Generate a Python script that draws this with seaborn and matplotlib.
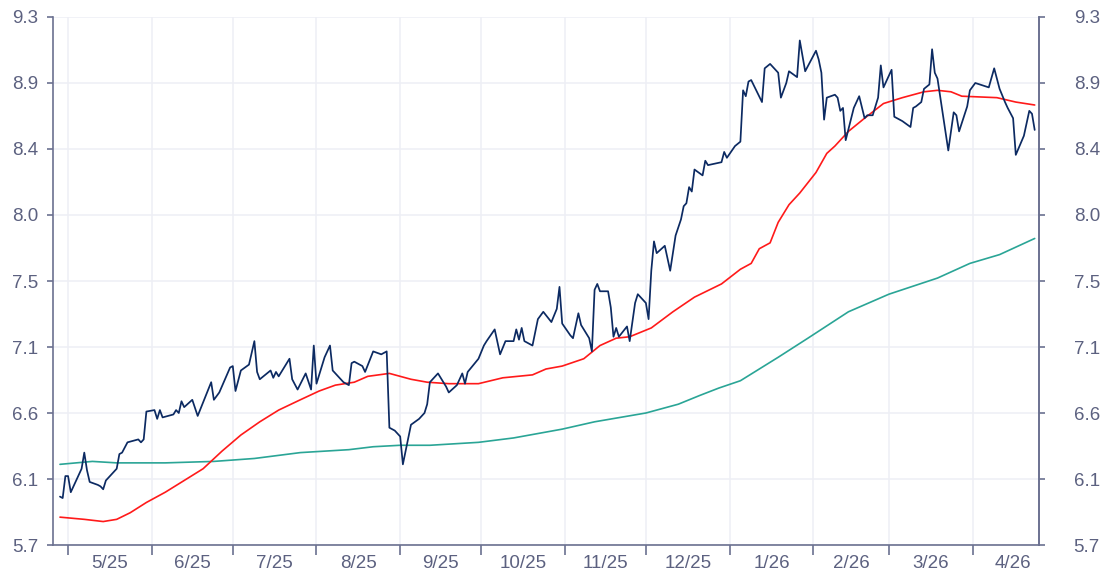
import pandas as pd
import matplotlib
matplotlib.use("Agg")
import matplotlib.pyplot as plt
import seaborn as sns

# daily price (vertices)
price_dates = [
    "2025-04-28", "2025-04-29", "2025-04-30", "2025-05-01", "2025-05-02", "2025-05-06", "2025-05-07",
    "2025-05-08", "2025-05-09", "2025-05-12", "2025-05-13", "2025-05-14", "2025-05-15", "2025-05-19",
    "2025-05-20", "2025-05-21", "2025-05-23", "2025-05-27", "2025-05-28", "2025-05-29", "2025-05-30",
    "2025-06-02", "2025-06-03", "2025-06-04", "2025-06-05", "2025-06-09", "2025-06-10", "2025-06-11",
    "2025-06-12", "2025-06-13", "2025-06-16", "2025-06-18", "2025-06-23", "2025-06-24", "2025-06-26",
    "2025-06-30", "2025-07-01", "2025-07-02", "2025-07-04", "2025-07-07", "2025-07-09", "2025-07-10",
    "2025-07-11", "2025-07-15", "2025-07-16", "2025-07-17", "2025-07-18", "2025-07-22", "2025-07-23",
    "2025-07-25", "2025-07-28", "2025-07-30", "2025-07-31", "2025-08-01", "2025-08-04", "2025-08-06",
    "2025-08-07", "2025-08-11", "2025-08-13", "2025-08-14", "2025-08-15", "2025-08-18", "2025-08-19",
    "2025-08-22", "2025-08-25", "2025-08-27", "2025-08-28", "2025-08-30", "2025-09-01", "2025-09-02",
    "2025-09-05", "2025-09-08", "2025-09-10", "2025-09-11", "2025-09-12", "2025-09-15", "2025-09-18",
    "2025-09-19", "2025-09-22", "2025-09-24", "2025-09-25", "2025-09-26", "2025-09-30", "2025-10-02",
    "2025-10-03", "2025-10-06", "2025-10-08", "2025-10-10", "2025-10-13", "2025-10-14", "2025-10-15",
    "2025-10-16", "2025-10-17", "2025-10-20", "2025-10-22", "2025-10-24", "2025-10-27", "2025-10-29",
    "2025-10-30", "2025-10-31", "2025-11-03", "2025-11-04", "2025-11-06", "2025-11-07", "2025-11-10",
    "2025-11-11", "2025-11-12", "2025-11-13", "2025-11-14", "2025-11-17", "2025-11-18", "2025-11-19",
    "2025-11-20", "2025-11-21", "2025-11-24", "2025-11-25", "2025-11-27", "2025-11-28", "2025-12-01",
    "2025-12-02", "2025-12-03", "2025-12-04", "2025-12-05", "2025-12-08", "2025-12-10", "2025-12-12",
    "2025-12-14", "2025-12-15", "2025-12-16", "2025-12-17", "2025-12-18", "2025-12-19", "2025-12-22",
    "2025-12-23", "2025-12-24", "2025-12-29", "2025-12-30", "2025-12-31", "2026-01-03", "2026-01-05",
    "2026-01-06", "2026-01-07", "2026-01-08", "2026-01-09", "2026-01-13", "2026-01-14", "2026-01-16",
    "2026-01-19", "2026-01-20", "2026-01-22", "2026-01-23", "2026-01-26", "2026-01-27", "2026-01-29",
    "2026-02-02", "2026-02-03", "2026-02-04", "2026-02-05", "2026-02-06", "2026-02-09", "2026-02-10",
    "2026-02-11", "2026-02-12", "2026-02-13", "2026-02-16", "2026-02-18", "2026-02-20", "2026-02-21",
    "2026-02-23", "2026-02-25", "2026-02-26", "2026-02-27", "2026-03-02", "2026-03-03", "2026-03-06",
    "2026-03-09", "2026-03-10", "2026-03-11", "2026-03-13", "2026-03-14", "2026-03-16", "2026-03-17",
    "2026-03-18", "2026-03-19", "2026-03-23", "2026-03-25", "2026-03-26", "2026-03-27", "2026-03-30",
    "2026-03-31", "2026-04-02", "2026-04-07", "2026-04-09", "2026-04-11", "2026-04-13", "2026-04-14",
    "2026-04-16", "2026-04-17", "2026-04-20", "2026-04-22", "2026-04-23", "2026-04-24",
]
price_values = [
    6.03, 6.02, 6.17, 6.17, 6.06, 6.22, 6.33,
    6.21, 6.13, 6.11, 6.10, 6.08, 6.14, 6.22,
    6.32, 6.33, 6.40, 6.42, 6.40, 6.42, 6.61,
    6.62, 6.56, 6.62, 6.57, 6.59, 6.62, 6.60,
    6.68, 6.64, 6.69, 6.58, 6.81, 6.69, 6.74,
    6.91, 6.92, 6.75, 6.89, 6.93, 7.09, 6.88,
    6.83, 6.89, 6.84, 6.88, 6.85, 6.97, 6.83,
    6.76, 6.87, 6.76, 7.06, 6.80, 6.98, 7.06,
    6.89, 6.81, 6.79, 6.94, 6.95, 6.92, 6.88,
    7.02, 7.00, 7.02, 6.50, 6.48, 6.44, 6.25,
    6.52, 6.56, 6.60, 6.66, 6.81, 6.87, 6.78,
    6.74, 6.79, 6.87, 6.80, 6.88, 6.97, 7.06,
    7.09, 7.17, 7.00, 7.09, 7.09, 7.17, 7.10,
    7.18, 7.09, 7.06, 7.24, 7.29, 7.22, 7.31,
    7.46, 7.21, 7.13, 7.11, 7.28, 7.20, 7.11,
    7.02, 7.44, 7.48, 7.43, 7.43, 7.32, 7.12,
    7.18, 7.12, 7.19, 7.09, 7.35, 7.41, 7.35,
    7.24, 7.57, 7.77, 7.69, 7.74, 7.57, 7.81,
    7.92, 8.01, 8.03, 8.14, 8.11, 8.26, 8.22,
    8.32, 8.29, 8.31, 8.38, 8.34, 8.42, 8.45,
    8.80, 8.76, 8.86, 8.87, 8.72, 8.95, 8.98,
    8.92, 8.75, 8.85, 8.93, 8.89, 9.14, 8.93,
    9.07, 9.01, 8.92, 8.60, 8.75, 8.77, 8.75,
    8.66, 8.68, 8.46, 8.68, 8.76, 8.61, 8.63,
    8.63, 8.75, 8.97, 8.82, 8.94, 8.62, 8.59,
    8.55, 8.68, 8.69, 8.72, 8.81, 8.84, 9.08,
    8.92, 8.88, 8.39, 8.65, 8.63, 8.52, 8.69,
    8.80, 8.85, 8.82, 8.95, 8.81, 8.72, 8.68,
    8.61, 8.36, 8.49, 8.66, 8.64, 8.53,
]

# shorter moving average (red)
ma_short_dates = [
    "2025-04-28", "2025-05-07", "2025-05-14", "2025-05-19", "2025-05-24", "2025-05-30", "2025-06-06",
    "2025-06-13", "2025-06-20", "2025-06-27", "2025-07-04", "2025-07-11", "2025-07-18", "2025-07-26",
    "2025-08-02", "2025-08-08", "2025-08-15", "2025-08-20", "2025-08-28", "2025-09-01", "2025-09-05",
    "2025-09-11", "2025-09-19", "2025-09-30", "2025-10-09", "2025-10-20", "2025-10-25", "2025-10-31",
    "2025-11-08", "2025-11-14", "2025-11-20", "2025-11-25", "2025-12-03", "2025-12-11", "2025-12-19",
    "2025-12-29", "2026-01-05", "2026-01-09", "2026-01-12", "2026-01-16", "2026-01-19", "2026-01-23",
    "2026-01-27", "2026-02-02", "2026-02-06", "2026-02-09", "2026-02-14", "2026-02-20", "2026-02-27",
    "2026-03-06", "2026-03-14", "2026-03-19", "2026-03-24", "2026-03-28", "2026-04-10", "2026-04-17",
    "2026-04-24",
]
ma_short_values = [
    5.89, 5.875, 5.86, 5.875, 5.92, 5.99, 6.06,
    6.14, 6.22, 6.34, 6.45, 6.54, 6.62, 6.69,
    6.75, 6.79, 6.81, 6.85, 6.87, 6.85, 6.83,
    6.81, 6.80, 6.80, 6.84, 6.86, 6.90, 6.92,
    6.97, 7.06, 7.11, 7.12, 7.18, 7.29, 7.39,
    7.48, 7.58, 7.62, 7.72, 7.76, 7.90, 8.02,
    8.10, 8.24, 8.37, 8.42, 8.52, 8.61, 8.71,
    8.75, 8.79, 8.80, 8.79, 8.76, 8.75, 8.72,
    8.70,
]

# longer moving average (teal)
ma_long_dates = [
    "2025-04-28", "2025-05-10", "2025-05-19", "2025-06-06", "2025-06-24", "2025-07-09", "2025-07-26",
    "2025-08-13", "2025-08-22", "2025-09-01", "2025-09-12", "2025-09-30", "2025-10-13", "2025-10-31",
    "2025-11-12", "2025-12-01", "2025-12-13", "2025-12-21", "2025-12-28", "2026-01-05", "2026-01-19",
    "2026-01-30", "2026-02-14", "2026-03-01", "2026-03-19", "2026-03-31", "2026-04-11", "2026-04-24",
]
ma_long_values = [
    6.25, 6.27, 6.26, 6.26, 6.27, 6.29, 6.33,
    6.35, 6.37, 6.38, 6.38, 6.40, 6.43, 6.49,
    6.54, 6.60, 6.66, 6.72, 6.77, 6.82, 6.98,
    7.11, 7.29, 7.41, 7.52, 7.62, 7.68, 7.79,
]

y_ticks = [5.7, 6.15, 6.6, 7.05, 7.5, 7.95, 8.4, 8.85, 9.3]
y_labels = ["5.7", "6.1", "6.6", "7.1", "7.5", "8.0", "8.4", "8.9", "9.3"]
month_labels = ["5/25", "6/25", "7/25", "8/25", "9/25", "10/25", "11/25",
                "12/25", "1/26", "2/26", "3/26", "4/26"]

NAVY = "#0c2a62"
RED = "#ff1a1a"
TEAL = "#2aa596"
AXIS = "#6b7190"
TEXT = "#5c6180"
GRID = "#eeeff5"

sns.set_theme(style="white")
plt.rcParams["font.family"] = ["Liberation Sans", "DejaVu Sans"]

price = pd.DataFrame({"date": pd.to_datetime(price_dates), "value": price_values})
ma_short = pd.DataFrame({"date": pd.to_datetime(ma_short_dates), "value": ma_short_values})
ma_long = pd.DataFrame({"date": pd.to_datetime(ma_long_dates), "value": ma_long_values})

fig, ax = plt.subplots(figsize=(11.02, 5.74), dpi=100)
fig.subplots_adjust(left=0.0481, right=0.9428, bottom=0.0505, top=0.9704)

sns.lineplot(data=ma_long, x="date", y="value", ax=ax, color=TEAL, lw=1.2, estimator=None)
sns.lineplot(data=ma_short, x="date", y="value", ax=ax, color=RED, lw=1.2, estimator=None)
sns.lineplot(data=price, x="date", y="value", ax=ax, color=NAVY, lw=1.25, estimator=None)

ax.set_xlim(pd.Timestamp("2025-04-25 10:00"), pd.Timestamp("2026-04-25 14:00"))
ax.set_ylim(5.7, 9.3)
ax.set_xlabel("")
ax.set_ylabel("")

# month boundaries get tick marks + grid, month middles get the labels
month_starts = pd.date_range("2025-05-01", periods=13, freq="MS")
month_mids = [a + (b - a) / 2 for a, b in zip(month_starts[:-1], month_starts[1:])]
ax.set_xticks(month_starts[:-1])
ax.set_xticklabels([])
ax.set_xticks(month_mids, minor=True)
ax.set_xticklabels(month_labels, minor=True)
ax.tick_params(axis="x", which="major", length=7, width=1.2, color=AXIS, direction="out", bottom=True)
ax.tick_params(axis="x", which="minor", length=0, pad=7, labelsize=13.5, labelcolor=TEXT)

ax.set_yticks(y_ticks)
ax.set_yticklabels(y_labels)
ax.tick_params(axis="y", length=4.5, width=1.2, color=AXIS, direction="out", left=True,
               pad=6, labelsize=13.5, labelcolor=TEXT)

ax.grid(True, which="major", color=GRID, lw=1.1)
for side in ["left", "bottom", "right"]:
    ax.spines[side].set_color(AXIS)
    ax.spines[side].set_linewidth(1.2)
ax.spines["top"].set_visible(False)

ax2 = ax.twinx()
ax2.set_ylim(5.7, 9.3)
ax2.set_yticks(y_ticks)
ax2.set_yticklabels(y_labels)
ax2.tick_params(axis="y", length=4.5, width=1.2, color=AXIS, direction="out", right=True,
                pad=20.5, labelsize=13.5, labelcolor=TEXT)
ax2.grid(False)
for side in ["top", "left", "bottom"]:
    ax2.spines[side].set_visible(False)
ax2.spines["right"].set_color(AXIS)
ax2.spines["right"].set_linewidth(1.2)

plt.savefig("out.png", dpi=100)
